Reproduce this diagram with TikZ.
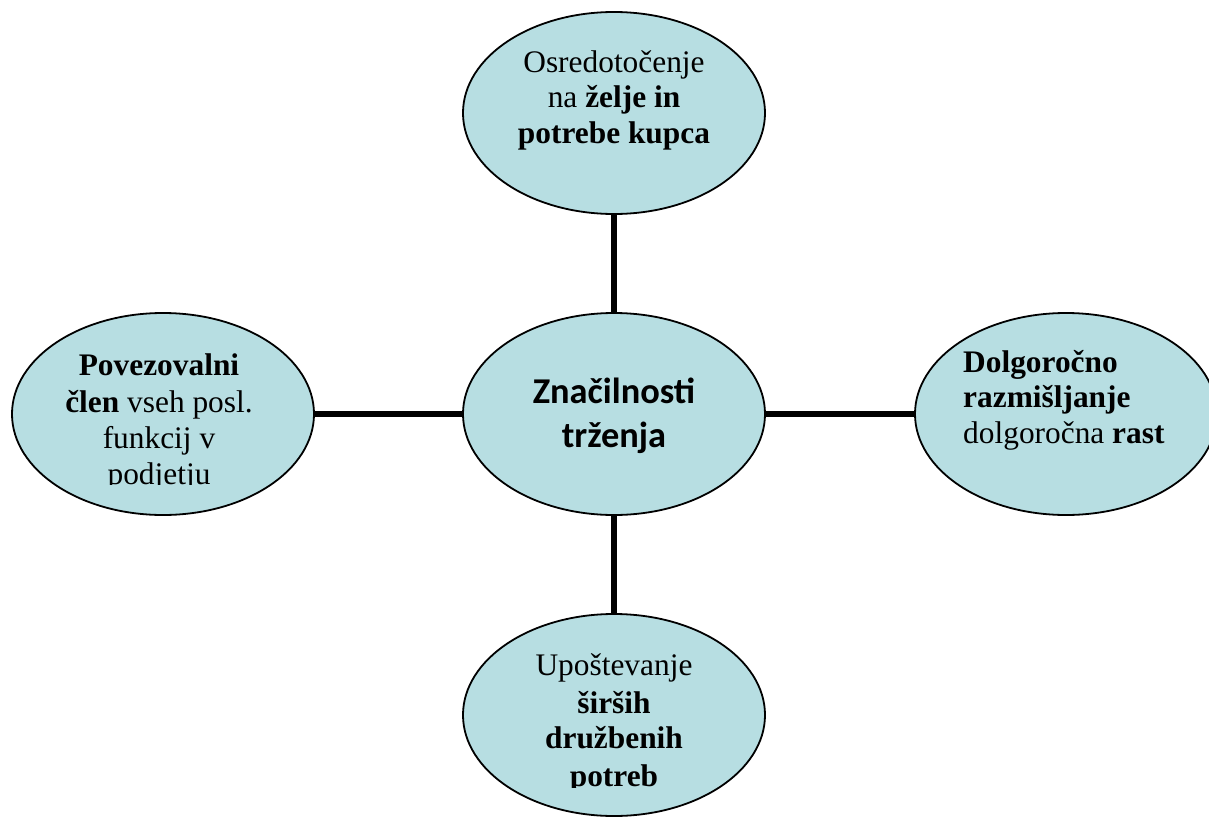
\documentclass[tikz,border=0pt]{standalone}
\usepackage{fontspec}
\setmainfont{Liberation Serif}
\newfontfamily\calib{Carlito}
\usetikzlibrary{shapes.geometric}
\definecolor{bubble}{RGB}{183,222,226}
\tikzset{
  bubble/.style={ellipse, draw=black, line width=1.8bp, fill=bubble,
    minimum width=302bp, minimum height=202bp, inner sep=0pt},
  link/.style={line width=5.5bp, black},
  txt/.style={anchor=base, inner sep=0pt, font=\fontsize{31.5}{36}\selectfont},
  hub/.style={anchor=base, inner sep=0pt, font=\calib\bfseries\fontsize{36.5}{44}\selectfont},
}
\begin{document}
\begin{tikzpicture}[x=1bp,y=-1bp]
\useasboundingbox (0,0) rectangle (1209,817);
\begin{scope}
\clip (0,0) rectangle (1209,817);
% ellipses
\node[bubble] (mid) at (614,414) {};
\node[bubble] (top) at (614,113) {};
\node[bubble] (left) at (163,414) {};
\node[bubble] (right) at (1066,414) {};
\node[bubble] (bot) at (614,715) {};
% connectors
\draw[link] (top.south) -- (mid.north);
\draw[link] (mid.south) -- (bot.north);
\draw[link] (left.east) -- (mid.west);
\draw[link] (mid.east) -- (right.west);
\end{scope}

% centre
\node[hub] (m1) at (614,403) {Značilnosti};
\node[hub] (m2) at (614,447) {trženja};

% top
\node[txt] (t1) at (614,73) {Osredotočenje};
\node[txt] (t2) at (614,108) {na \textbf{želje in}};
\node[txt] (t3) at (614,143) {\textbf{potrebe kupca}};

% right (left aligned)
\node[txt, anchor=base west] (r1) at (963,372) {\textbf{Dolgoročno}};
\node[txt, anchor=base west] (r2) at (963,407) {\textbf{razmišljanje}};
\node[txt, anchor=base west] (r3) at (963,443) {dolgoročna \textbf{rast}};

% left, text box cut off at the bottom
\begin{scope}
\clip (0,300) rectangle (330,484);
\node[txt] (l1) at (159,375) {\textbf{Povezovalni}};
\node[txt] (l2) at (159,412) {\textbf{člen} vseh posl.};
\node[txt] (l3) at (159,448) {funkcij v};
\node[txt] (l4) at (159,484) {podjetju};
\end{scope}

% bottom, text box cut off at the bottom
\begin{scope}
\clip (440,620) rectangle (790,787);
\node[txt] (b1) at (614,675) {Upoštevanje};
\node[txt] (b2) at (614,713) {\textbf{širših}};
\node[txt] (b3) at (614,748) {\textbf{družbenih}};
\node[txt] (b4) at (614,786) {\textbf{potreb}};
\end{scope}
\end{tikzpicture}
\end{document}
